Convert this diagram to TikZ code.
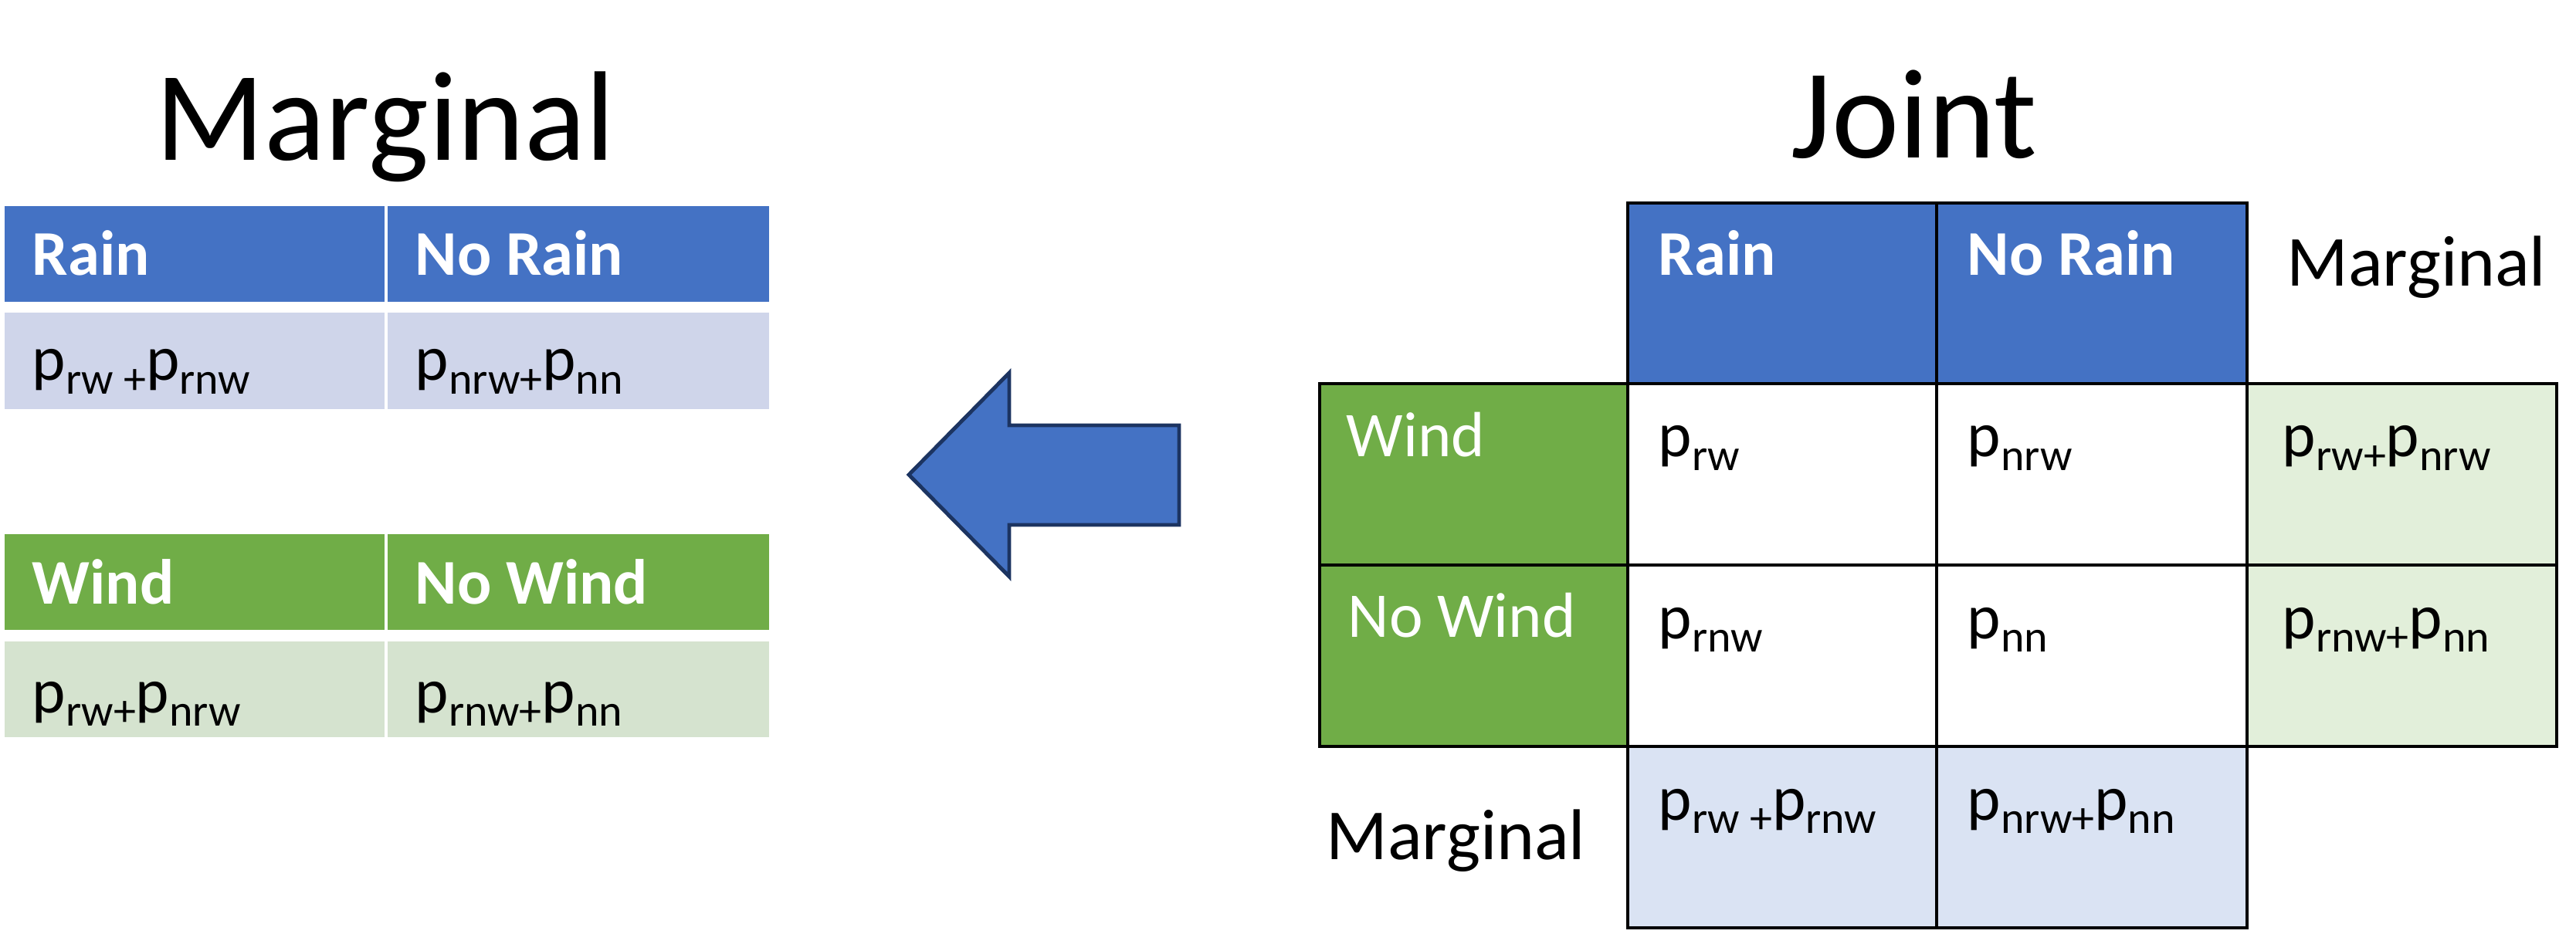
\documentclass[tikz,border=0pt]{standalone}
\usepackage{fontspec}
\setmainfont{Carlito}
\usepackage{tikz}
\definecolor{rainblue}{HTML}{4472C4}
\definecolor{windgreen}{HTML}{70AD47}
\definecolor{rainpale}{HTML}{CFD5EA}
\definecolor{windpale}{HTML}{D5E3CF}
\definecolor{jointblue}{HTML}{DAE3F3}
\definecolor{jointgreen}{HTML}{E2EFDA}
\definecolor{arrowline}{HTML}{1C3461}
\newcommand{\psub}[1]{p\raisebox{-5pt}{\fontsize{16.5}{20}\selectfont #1}}
\tikzset{
  hdr/.style={anchor=base west,inner sep=0pt,text=white,font=\fontsize{23.5}{28}\selectfont\bfseries},
  rowhdr/.style={anchor=base west,inner sep=0pt,text=white,font=\fontsize{23.5}{28}\selectfont},
  val/.style={anchor=base west,inner sep=0pt,font=\fontsize{23.5}{28}\selectfont},
  side/.style={anchor=base west,inner sep=0pt,font=\fontsize{26.5}{32}\selectfont},
  title/.style={anchor=base,inner sep=0pt,font=\fontsize{47}{56}\selectfont},
  grid/.style={draw=black,line width=1.3pt},
  bigarrow/.style={fill=rainblue,draw=arrowline,line width=1.4pt}
}

\begin{document}
\begin{tikzpicture}
\useasboundingbox (0,0) rectangle (33.36,-12.10);
% marginal tables
\node[title] (margtitle) at (4.99,-2.08) {Marginal};
\fill[rainblue] (0.06,-2.67) rectangle (4.98,-3.91);
\fill[rainblue] (5.02,-2.67) rectangle (9.96,-3.91);
\fill[rainpale] (0.06,-4.05) rectangle (4.98,-5.30);
\fill[rainpale] (5.02,-4.05) rectangle (9.96,-5.30);
\node[hdr] (mrain) at (0.41,-3.57) {Rain};
\node[hdr] (mnorain) at (5.37,-3.57) {No Rain};
\node[val] (mprain) at (0.41,-4.93) {\psub{rw +}\psub{rnw}};
\node[val] (mpnorain) at (5.37,-4.93) {\psub{nrw+}\psub{nn}};
\fill[windgreen] (0.06,-6.92) rectangle (4.98,-8.16);
\fill[windgreen] (5.02,-6.92) rectangle (9.96,-8.16);
\fill[windpale] (0.06,-8.31) rectangle (4.98,-9.55);
\fill[windpale] (5.02,-8.31) rectangle (9.96,-9.55);
\node[hdr] (mwind) at (0.41,-7.82) {Wind};
\node[hdr] (mnowind) at (5.37,-7.82) {No Wind};
\node[val] (mpwind) at (0.41,-9.23) {\psub{rw+}\psub{nrw}};
\node[val] (mpnowind) at (5.37,-9.23) {\psub{rnw+}\psub{nn}};
% arrow
\draw[bigarrow] (11.77,-6.15) -- (13.07,-4.83) -- (13.07,-5.51) -- (15.27,-5.51)
  -- (15.27,-6.80) -- (13.07,-6.80) -- (13.07,-7.47) -- cycle;
% joint table
\node[title] (jointtitle) at (24.79,-2.05) {Joint};
\filldraw[grid,fill=rainblue] (21.08,-2.63) rectangle (25.08,-4.97);
\filldraw[grid,fill=rainblue] (25.08,-2.63) rectangle (29.10,-4.97);
\filldraw[grid,fill=windgreen] (17.09,-4.97) rectangle (21.08,-7.32);
\filldraw[grid,fill=windgreen] (17.09,-7.32) rectangle (21.08,-9.67);
\filldraw[grid,fill=white] (21.08,-4.97) rectangle (25.08,-7.32);
\filldraw[grid,fill=white] (25.08,-4.97) rectangle (29.10,-7.32);
\filldraw[grid,fill=white] (21.08,-7.32) rectangle (25.08,-9.67);
\filldraw[grid,fill=white] (25.08,-7.32) rectangle (29.10,-9.67);
\filldraw[grid,fill=jointgreen] (29.10,-4.97) rectangle (33.11,-7.32);
\filldraw[grid,fill=jointgreen] (29.10,-7.32) rectangle (33.11,-9.67);
\filldraw[grid,fill=jointblue] (21.08,-9.67) rectangle (25.08,-12.02);
\filldraw[grid,fill=jointblue] (25.08,-9.67) rectangle (29.10,-12.02);
\node[hdr] (jrain) at (21.47,-3.57) {Rain};
\node[hdr] (jnorain) at (25.47,-3.57) {No Rain};
\node[rowhdr] (jwind) at (17.43,-5.91) {Wind};
\node[rowhdr] (jnowind) at (17.45,-8.25) {No Wind};
\node[val] (prw) at (21.47,-5.92) {\psub{rw}};
\node[val] (pnrw) at (25.47,-5.92) {\psub{nrw}};
\node[val] (prnw) at (21.47,-8.27) {\psub{rnw}};
\node[val] (pnn) at (25.47,-8.27) {\psub{nn}};
\node[val] (pwind) at (29.55,-5.92) {\psub{rw+}\psub{nrw}};
\node[val] (pnowind) at (29.55,-8.27) {\psub{rnw+}\psub{nn}};
\node[val] (prain) at (21.47,-10.62) {\psub{rw +}\psub{rnw}};
\node[val] (pnorain) at (25.47,-10.62) {\psub{nrw+}\psub{nn}};
\node[side] (margright) at (29.61,-3.71) {Marginal};
\node[side] (margbottom) at (17.17,-11.13) {Marginal};
\end{tikzpicture}
\end{document}
